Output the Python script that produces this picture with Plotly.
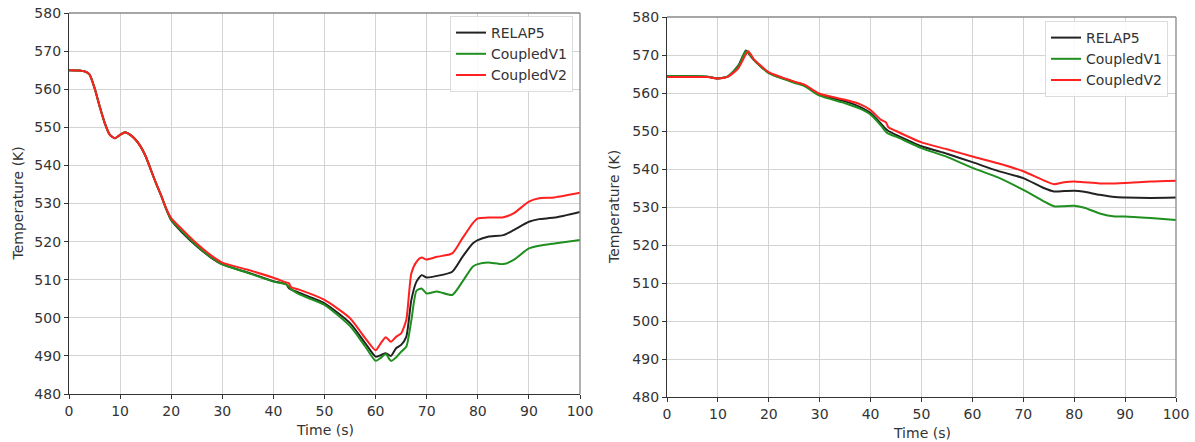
import plotly.graph_objects as go

# ---- left panel: time (s) and temperature (K) for the three codes ----
t_left = [0, 2, 3, 4, 5, 6, 7, 8, 9, 10, 11, 12, 13, 14, 15, 16, 17, 18, 19, 20,
          22, 25, 28, 30, 35, 40, 42.5, 43, 43.5, 45, 50, 55, 58, 60, 61, 62, 63, 64,
          65, 66, 67, 68, 69, 70, 72, 75, 77, 79, 80, 82, 85, 87, 90, 92, 95, 100]

relap5_left = [565.0, 564.9, 564.7, 563.9, 560.3, 555.5, 551.1, 548.0, 547.1, 548.0, 548.7, 548.0,
               546.8, 545.0, 542.4, 538.9, 535.4, 532.2, 528.6, 525.6,
               522.6, 518.8, 515.6, 514.0, 511.9, 509.6, 508.8, 507.8, 507.4, 506.6,
               503.8, 498.6, 493.3, 489.8, 490.2, 490.7, 490.0, 492.0,
               492.9, 495.0, 504.7, 509.5, 511.2, 510.6, 511.0, 512.1, 516.0, 519.5,
               520.4, 521.3, 521.7, 523.0, 525.2, 525.9, 526.3, 527.8]

coupledv1_left = [565.0, 564.9, 564.7, 563.9, 560.3, 555.5, 551.1, 548.0, 547.1, 548.0, 548.7, 548.0,
                  546.8, 545.0, 542.4, 538.9, 535.4, 532.2, 528.6, 525.8,
                  522.9, 519.0, 515.7, 514.0, 511.8, 509.5, 508.8, 508.2, 507.5, 506.2,
                  503.4, 497.8, 492.4, 488.7, 489.5, 490.5, 488.7, 489.6,
                  491.1, 492.4, 499.4, 507.1, 507.7, 506.4, 506.9, 506.0, 509.5, 513.4,
                  514.1, 514.5, 514.1, 515.2, 518.2, 518.9, 519.5, 520.4]

coupledv2_left = [565.0, 564.9, 564.7, 563.9, 560.3, 555.5, 551.1, 548.0, 547.1, 548.0, 548.7, 548.0,
                  546.8, 545.0, 542.4, 538.9, 535.4, 532.2, 528.8, 526.2,
                  523.4, 519.5, 516.2, 514.5, 512.6, 510.5, 509.3, 509.1, 508.0, 507.4,
                  504.7, 499.9, 494.6, 491.5, 493.3, 494.9, 493.7, 495.0,
                  495.9, 499.4, 511.7, 514.7, 515.8, 515.3, 516.0, 516.9, 520.9, 524.8,
                  526.1, 526.3, 526.4, 527.4, 530.5, 531.4, 531.6, 532.8]

# ---- right panel ----
t_right = [0, 5, 8, 10, 12, 14, 15.5, 16, 17, 20, 25, 27, 30, 35, 38, 40, 42, 43, 43.5, 45,
           50, 55, 60, 65, 70, 74, 76, 78, 80, 82, 85, 88, 90, 95, 100]

relap5_right = [564.5, 564.4, 564.3, 563.8, 564.4, 567.2, 571.2, 570.5, 568.8, 565.3, 562.9, 562.0,
                559.6, 557.8, 556.3, 554.7, 552.0, 550.5, 550.0, 549.0,
                546.0, 544.0, 541.8, 539.5, 537.6, 535.0, 534.1, 534.2, 534.3, 534.0,
                533.2, 532.6, 532.5, 532.4, 532.5]

coupledv1_right = [564.5, 564.4, 564.3, 563.8, 564.4, 567.0, 571.0, 570.6, 568.8, 565.2, 562.7, 561.8,
                   559.3, 557.3, 555.8, 554.3, 551.5, 549.8, 549.3, 548.5,
                   545.5, 543.2, 540.3, 537.8, 534.5, 531.5, 530.2, 530.2, 530.3, 529.8,
                   528.3, 527.5, 527.5, 527.1, 526.6]

coupledv2_right = [564.2, 564.2, 564.2, 563.8, 564.3, 566.5, 570.2, 571.0, 569.0, 565.5, 563.0, 562.2,
                   559.8, 558.2, 557.0, 555.5, 553.0, 552.3, 551.0, 550.0,
                   547.0, 545.2, 543.3, 541.5, 539.4, 537.0, 536.0, 536.5, 536.7, 536.5,
                   536.2, 536.2, 536.3, 536.7, 536.9]

series_names = ["RELAP5", "CoupledV1", "CoupledV2"]
series_colors = ["#222222", "#1f8f1f", "#ff2020"]

x_ticks = [0, 10, 20, 30, 40, 50, 60, 70, 80, 90, 100]
y_ticks = [480, 490, 500, 510, 520, 530, 540, 550, 560, 570, 580]

W, H = 1195, 442
FONT = "DejaVu Sans, Liberation Sans, sans-serif"
TXT = "#333333"
FS = 14

fig = go.Figure()

left_sets = [relap5_left, coupledv1_left, coupledv2_left]
right_sets = [relap5_right, coupledv1_right, coupledv2_right]

for name, col, ys in zip(series_names, series_colors, left_sets):
    fig.add_trace(go.Scatter(x=t_left, y=ys, name=name, mode="lines",
                             line=dict(color=col, width=2, shape="spline", smoothing=0.6),
                             xaxis="x", yaxis="y", legend="legend"))
for name, col, ys in zip(series_names, series_colors, right_sets):
    fig.add_trace(go.Scatter(x=t_right, y=ys, name=name, mode="lines",
                             line=dict(color=col, width=2, shape="spline", smoothing=0.6),
                             xaxis="x2", yaxis="y2", legend="legend2"))

# plot-area boxes in pixels: (left, right, top, bottom)
left_box = (69, 580, 13, 394)
right_box = (667, 1176, 17, 397)


def dom_x(b):
    return [b[0] / W, b[1] / W]


def dom_y(b):
    return [1 - b[3] / H, 1 - b[2] / H]


axis_common = dict(showgrid=True, gridcolor="#d3d3d3", gridwidth=1,
                   showline=True, linecolor="#333333", linewidth=1.3,
                   ticks="outside", ticklen=4, tickcolor="#333333", tickwidth=1,
                   tickfont=dict(family=FONT, size=FS, color=TXT),
                   zeroline=False, automargin=False)

legend_common = dict(xanchor="right", yanchor="top",
                     bgcolor="rgba(255,255,255,0.85)", bordercolor="#dcdcdc", borderwidth=1,
                     font=dict(family=FONT, size=FS, color=TXT))

fig.update_layout(
    width=W, height=H,
    margin=dict(l=0, r=0, t=0, b=0),
    paper_bgcolor="white", plot_bgcolor="white",
    font=dict(family=FONT, size=FS, color=TXT),
    xaxis=dict(domain=dom_x(left_box), anchor="y", range=[0, 100], tickvals=x_ticks, **axis_common),
    yaxis=dict(domain=dom_y(left_box), anchor="x", range=[480, 580], tickvals=y_ticks, **axis_common),
    xaxis2=dict(domain=dom_x(right_box), anchor="y2", range=[0, 100], tickvals=x_ticks, **axis_common),
    yaxis2=dict(domain=dom_y(right_box), anchor="x2", range=[480, 580], tickvals=y_ticks, **axis_common),
    legend=dict(x=(left_box[1] - 7) / W, y=1 - (left_box[2] + 3) / H, **legend_common),
    legend2=dict(x=(right_box[1] - 8) / W, y=1 - (right_box[2] + 4) / H, **legend_common),
)

# axis titles placed in pixel terms
for (l, r, t, b), ytitle_x, xtitle_y in ((left_box, 18, 430), (right_box, 614, 433)):
    fig.add_annotation(text="Time (s)", x=(l + r) / 2 / W, y=1 - xtitle_y / H,
                       xref="paper", yref="paper", showarrow=False,
                       xanchor="center", yanchor="middle",
                       font=dict(family=FONT, size=FS, color=TXT))
    fig.add_annotation(text="Temperature (K)", x=ytitle_x / W, y=1 - (t + b) / 2 / H,
                       xref="paper", yref="paper", showarrow=False, textangle=-90,
                       xanchor="center", yanchor="middle",
                       font=dict(family=FONT, size=FS, color=TXT))

# lighter top and right frame edges
for xr, yr in (("x", "y"), ("x2", "y2")):
    fig.add_shape(type="line", xref=f"{xr} domain", yref=f"{yr} domain",
                  x0=0, x1=1, y0=1, y1=1, line=dict(color="#888888", width=1.3))
    fig.add_shape(type="line", xref=f"{xr} domain", yref=f"{yr} domain",
                  x0=1, x1=1, y0=0, y1=1, line=dict(color="#888888", width=1.3))

fig.write_html("out.html")
